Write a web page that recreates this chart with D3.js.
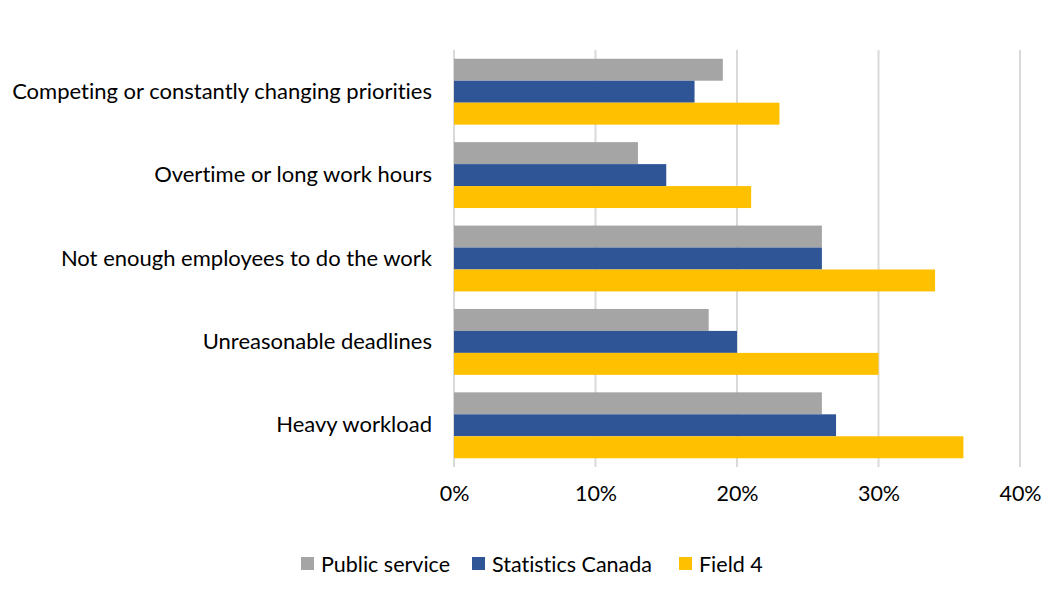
<!DOCTYPE html>
<html>
<head>
<meta charset="utf-8">
<script src="https://cdn.jsdelivr.net/npm/d3@7"></script>
<style>
  body { margin: 0; background: #fff; }
  text { font-family: Lato, "Open Sans", sans-serif; fill: #000; font-variant-ligatures: none; }
</style>
</head>
<body>
<div id="chart"></div>
<script>
// categories, top to bottom
var categories = [
	"Competing or constantly changing priorities",
	"Overtime or long work hours",
	"Not enough employees to do the work",
	"Unreasonable deadlines",
	"Heavy workload"
];

// series values (percent)
var publicService = [19, 13, 26, 18, 26];
var statsCanada = [17, 15, 26, 20, 27];
var field4 = [23, 21, 34, 30, 36];

var seriesNames = ["Public service", "Statistics Canada", "Field 4"];
var seriesColors = ["#A5A5A5", "#2F5597", "#FFC000"];
var xTicks = [0, 10, 20, 30, 40];

var width = 1051,
	height = 614;

var margin = { top: 50, right: 31, bottom: 147, left: 454 };

var svg = d3.select("#chart")
	.append("svg")
	.attr("width", width)
	.attr("height", height);

var x = d3.scaleLinear()
	.domain([0, 40])
	.range([margin.left, width - margin.right]);

var y = d3.scaleBand()
	.domain(categories)
	.range([margin.top, height - margin.bottom])
	.paddingInner(0.21)
	.paddingOuter(0.105);

var ySub = d3.scaleBand()
	.domain(seriesNames)
	.range([0, y.bandwidth()]);

// gridlines
svg.append("g")
	.selectAll("line")
	.data(xTicks)
	.enter().append("line")
	.attr("x1", function(d) { return x(d); })
	.attr("x2", function(d) { return x(d); })
	.attr("y1", margin.top)
	.attr("y2", height - margin.bottom)
	.style("stroke", "#D9D9D9")
	.style("stroke-width", 2);

// build rows for the bars
var rows = [];
var allSeries = [publicService, statsCanada, field4];
categories.forEach(function(c, i) {
	allSeries.forEach(function(s, j) {
		rows.push({ cat: c, series: seriesNames[j], value: s[i], color: seriesColors[j] });
	});
});

svg.append("g")
	.selectAll("rect")
	.data(rows)
	.enter().append("rect")
	.attr("x", x(0))
	.attr("y", function(d) { return y(d.cat) + ySub(d.series); })
	.attr("width", function(d) { return x(d.value) - x(0); })
	.attr("height", ySub.bandwidth())
	.style("fill", function(d) { return d.color; });

// category labels
var yAxis = svg.append("g")
	.attr("transform", "translate(" + (margin.left - 22) + ",0)")
	.call(d3.axisLeft(y).tickSize(0).tickPadding(0));
yAxis.select(".domain").remove();
yAxis.selectAll("text")
	.style("font-size", "22px")
	.style("font-family", "Lato, 'Open Sans', sans-serif")
	.attr("fill", "#000");

// x axis labels
var xAxis = svg.append("g")
	.attr("transform", "translate(0," + (height - margin.bottom) + ")")
	.call(d3.axisBottom(x).tickValues(xTicks).tickSize(0).tickPadding(19)
		.tickFormat(function(d) { return d + "%"; }));
xAxis.select(".domain").remove();
xAxis.selectAll("text")
	.style("font-size", "21.5px")
	.style("font-family", "Lato, 'Open Sans', sans-serif")
	.attr("fill", "#000");

// legend
var legendX = [301, 472, 679];
var legend = svg.append("g")
	.selectAll("g")
	.data(seriesNames)
	.enter().append("g")
	.attr("transform", function(d, i) { return "translate(" + legendX[i] + ",557)"; });

legend.append("rect")
	.attr("width", 13)
	.attr("height", 13)
	.style("fill", function(d, i) { return seriesColors[i]; });

legend.append("text")
	.attr("x", 20)
	.attr("y", 7)
	.attr("dy", "0.35em")
	.style("font-size", "21.5px")
	.text(function(d) { return d; });
</script>
</body>
</html>
